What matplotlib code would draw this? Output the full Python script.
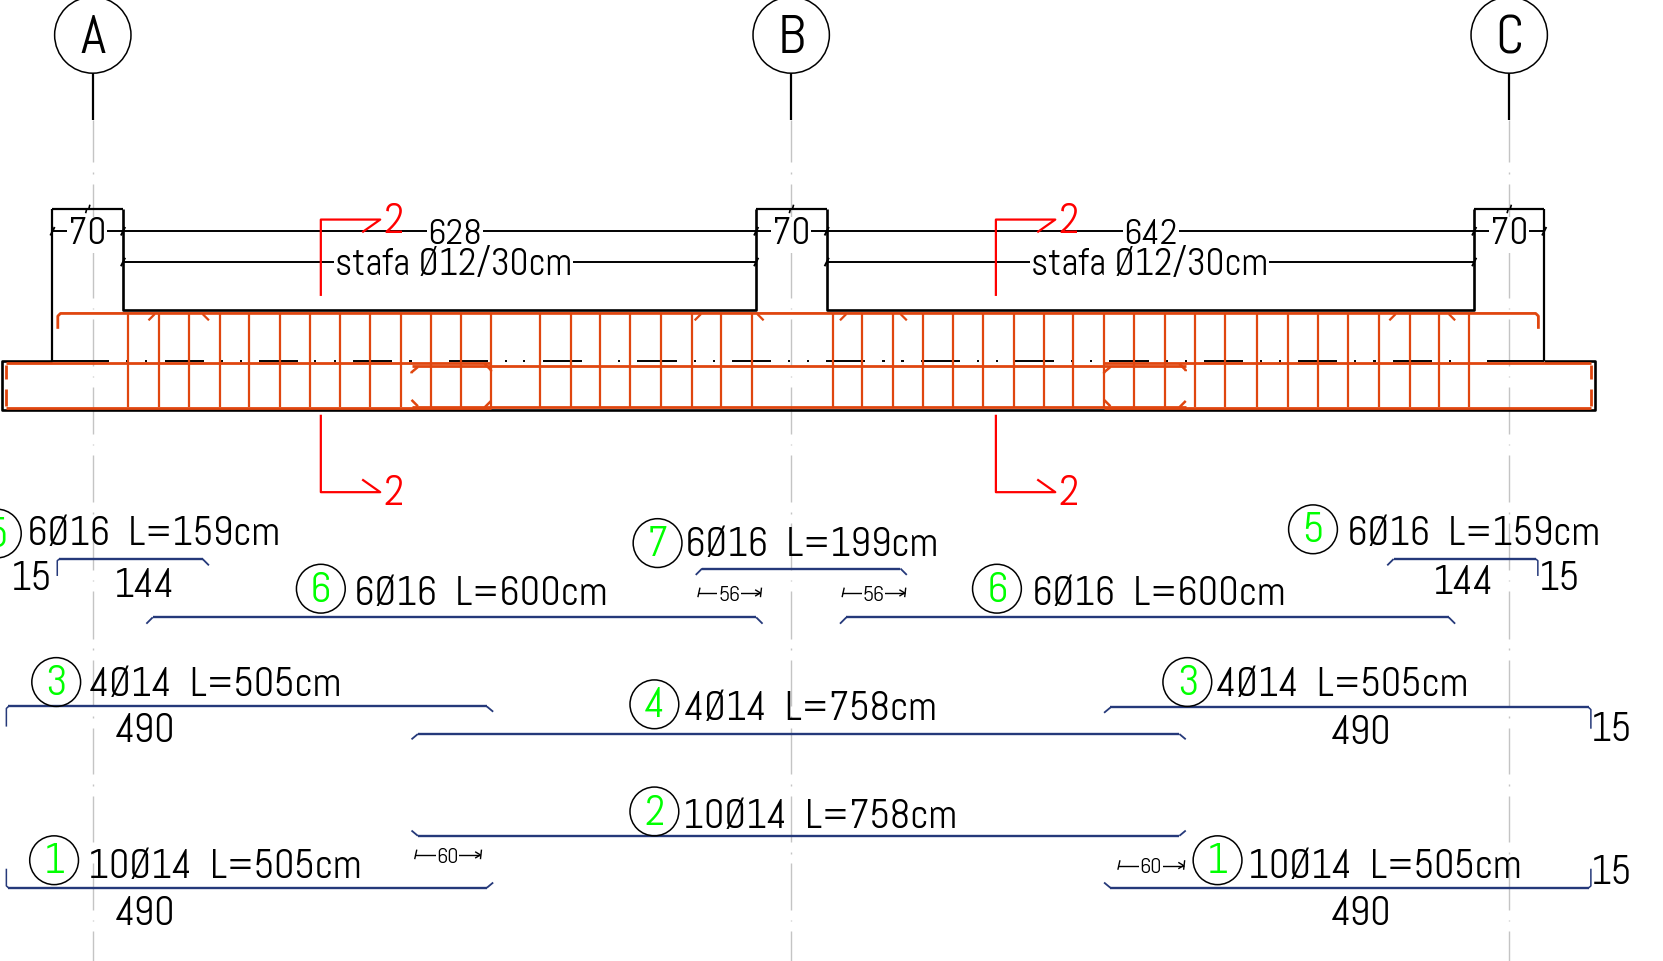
import matplotlib
matplotlib.use("Agg")
import matplotlib.pyplot as plt
from matplotlib import font_manager
from matplotlib.patches import Circle

# everything is in screen-like units, 1568 wide and 906 tall, y going down
BLACK = "#000000"
GRAY = "#c4c4c4"
RED = "#ff0000"
REBAR = "#e0460f"
NAVY = "#25397a"
GREEN = "#00ff00"

grid_names = ["A", "B", "C"]
grid_x = [87.5, 746, 1423]
grid_dots_y = [163, 227, 291, 355, 419, 483.5, 547.5, 612, 676, 740, 804, 868]

column_left = [49.5, 713, 1390]
column_right = [116, 779.5, 1456]
column_label_x = [82, 746, 1423]

stirrups_x = [121, 150, 178, 207, 235, 264, 292, 321, 349, 378, 406, 435, 463,
              509, 538, 566, 594, 623, 652, 680, 709,
              785, 813, 842, 870, 899, 927, 956, 984, 1012, 1041, 1069, 1098,
              1127, 1155, 1185, 1214, 1243, 1271, 1300, 1329, 1357, 1385]

slab_dash_x = [155.5, 244, 333, 423, 512, 601, 690, 779, 868, 957, 1046, 1135, 1224, 1313]
slab_dots_x = [119.5, 138, 209, 227, 297, 316, 387, 406, 477, 494, 566, 584, 655, 673,
               744, 762, 833, 851, 922, 940, 1011, 1029, 1100, 1118, 1189, 1207,
               1278, 1296, 1367, 1385]

# bar shapes under the beam: x0, x1, y, left end, right end (y of the hook tip)
bars = [
    (54, 197, 527, 543, 533),
    (138, 719, 582, 588, 588),
    (656, 855, 536, 542, 542),
    (792, 1372, 582, 588, 588),
    (1308, 1450, 527, 533, 543),
    (6, 465, 666, 685, 671),
    (388, 1118, 692, 697, 697),
    (1041, 1500, 667, 672, 687),
    (388, 1118, 788, 783, 783),
    (6, 465, 837, 819, 832),
    (1041, 1500, 837, 832, 819),
]

marker_names = ["5", "7", "6", "6", "5", "3", "4", "3", "2", "1", "1"]
marker_x = [-3, 620, 302.5, 940, 1238, 53, 617, 1119.5, 617, 51, 1148]
marker_y = [503, 512, 555, 555, 499, 643, 664, 643, 765, 811, 811]

label_text = ["6Ø16  L=159cm", "6Ø16  L=199cm", "6Ø16  L=600cm", "6Ø16  L=600cm",
              "6Ø16  L=159cm", "4Ø14  L=505cm", "4Ø14  L=758cm", "4Ø14  L=505cm",
              "10Ø14  L=758cm", "10Ø14  L=505cm", "10Ø14  L=505cm"]
label_x = [25, 646, 334, 973, 1270, 84, 645, 1147, 644, 83, 1177]
label_y = [501, 512, 558, 558, 501, 644, 666, 644, 768, 815, 815]

length_text = ["144", "15", "144", "15", "490", "490", "15", "490", "490", "15"]
length_x = [136, 30, 1380, 1470, 137, 1283, 1519, 137, 1283, 1519]
length_y = [550, 544, 548, 544, 687, 689, 686, 860, 860, 821]

lap_text = ["56", "56", "60", "60"]
lap_x0 = [658, 794, 391, 1054]
lap_x1 = [717, 853, 453, 1116]
lap_y = [559, 559, 806, 816]

span_text = ["628", "642"]
span_x = [429, 1085]
stirrup_text = "stafa Ø12/30cm"
stirrup_label_x = [316, 972]
section_x = [302.5, 939]

# narrow CAD-like face, shrink the text when it is missing
installed = {f.name for f in font_manager.fontManager.ttflist}
if "Abel" in installed:
    plt.rcParams["font.family"] = ["Abel", "DejaVu Sans"]
    fs = 1.0
else:
    plt.rcParams["font.family"] = ["DejaVu Sans"]
    fs = 0.72
dy = 2.5  # the face sits a little high when centred

fig = plt.figure(figsize=(16.63, 9.61), dpi=100)
ax = fig.add_axes([0, 0, 1, 1])
ax.set_xlim(0, 1568)
ax.set_ylim(906, 0)
ax.axis("off")


def line(xs, ys, color=BLACK, lw=1.5, z=2):
    ax.plot(xs, ys, color=color, lw=lw, solid_capstyle="butt", solid_joinstyle="round", zorder=z)


# grid lines with the bubbles on top
for name, x in zip(grid_names, grid_x):
    start = 113
    for dot in grid_dots_y:
        line([x, x], [start, dot - 10], GRAY, 1, 1)
        line([x, x], [dot - 0.7, dot + 0.7], GRAY, 1, 1)
        start = dot + 10
    line([x, x], [start, 906], GRAY, 1, 1)
    line([x, x], [69, 113], BLACK, 1.6)
    ax.add_patch(Circle((x, 33), 36, fc="white", ec=BLACK, lw=1.1, zorder=3))
    ax.text(x, 35 + dy, name, fontsize=39 * fs, ha="center", va="center", zorder=4)

# concrete outline
for left, right in zip(column_left, column_right):
    line([left, right], [197, 197], BLACK, 1.6)
line([49.5, 49.5], [197, 340], BLACK, 1.6)
line([1456, 1456], [197, 340], BLACK, 1.6)
line([116, 116, 713, 713], [197, 292, 292, 197], BLACK, 1.9)
line([779.5, 779.5, 1390, 1390], [197, 292, 292, 197], BLACK, 1.9)
line([49.5, 2, 2, 1504, 1504, 1456], [340, 340, 387, 387, 340, 340], BLACK, 1.9)
line([49.5, 103], [340, 340], BLACK, 1.4, 3)
line([1402, 1456], [340, 340], BLACK, 1.4, 3)
for x in slab_dash_x:
    line([x, x + 37], [340, 340], BLACK, 1.4, 3)
for x in slab_dots_x:
    line([x - 1, x + 1], [340, 340], BLACK, 1.4, 3)

# rebar
for x in stirrups_x:
    line([x, x], [296, 384], REBAR, 1.6, 5)
line([54.5, 54.5, 57, 1448, 1450.5, 1450.5], [310, 298, 295.5, 295.5, 298, 310], REBAR, 2, 5)
for x0, x1 in [(6, 463), (1041, 1500)]:
    line([x0, x1], [342, 342], REBAR, 2, 5)
    line([x0, x1], [384.5, 384.5], REBAR, 2, 5)
line([388, 1118], [345.5, 345.5], REBAR, 2, 5)
line([388, 1118], [384, 384], REBAR, 2, 5)
line([6, 6], [344, 357], REBAR, 2, 5)
line([6, 6], [367, 383], REBAR, 2, 5)
line([1500, 1500], [344, 357], REBAR, 2, 5)
line([1500, 1500], [367, 383], REBAR, 2, 5)
for x in [388, 1041]:
    line([x + 6, x, x], [346, 351, 352], REBAR, 1.8, 5)
    line([x + 6, x], [383, 377], REBAR, 1.8, 5)
for x in [463, 1118]:
    line([x - 6, x, x], [343, 349, 350], REBAR, 1.8, 5)
    line([x - 6, x], [384, 378], REBAR, 1.8, 5)
for x in [140, 655, 792, 1310]:
    line([x + 6, x], [296, 302], REBAR, 1.6, 5)
for x in [197, 720, 855, 1372]:
    line([x - 6, x], [296, 302], REBAR, 1.6, 5)

# dimension lines
for left, right, tx in zip(column_left, column_right, column_label_x):
    line([left, right], [218, 218], BLACK, 1.4)
    line([left - 2, left + 2], [222, 214], BLACK, 1.4)
    line([right - 2, right + 2], [222, 214], BLACK, 1.4)
    ax.text(tx, 219 + dy, "70", fontsize=27 * fs, ha="center", va="center", zorder=4,
            bbox=dict(fc="white", ec="none", pad=0.5))
    mid = (left + right) / 2
    line([mid - 2, mid - 1, mid + 1, mid + 2], [201, 197, 197, 193], BLACK, 1.2)
for i in range(2):
    x0, x1 = column_right[i], column_left[i + 1]
    line([x0, x1], [218, 218], BLACK, 1.4)
    line([x0, x1], [247, 247], BLACK, 1.4)
    for x in (x0, x1):
        line([x - 2, x + 2], [251, 243], BLACK, 1.4)
    ax.text(span_x[i], 219 + dy, span_text[i], fontsize=26 * fs, ha="center", va="center", zorder=4,
            bbox=dict(fc="white", ec="none", pad=0.5))
    ax.text(stirrup_label_x[i], 248 + dy, stirrup_text, fontsize=27 * fs, ha="left", va="center", zorder=4,
            bbox=dict(fc="white", ec="none", pad=0.5))

# section marks
for x in section_x:
    line([x, x, x + 56, x + 39], [279, 207, 207, 219], RED, 1.6, 6)
    line([x, x, x + 56, x + 39], [391, 464, 464, 452], RED, 1.6, 6)
    ax.text(x + 69, 207 + dy, "2", color=RED, fontsize=30 * fs, ha="center", va="center", zorder=6)
    ax.text(x + 69, 464 + dy, "2", color=RED, fontsize=30 * fs, ha="center", va="center", zorder=6)

# bar shapes, the long hooks are drawn thinner
for x0, x1, y, tip0, tip1 in bars:
    for x_end, x_in, tip in ((x0, x0 + 6, tip0), (x1, x1 - 6, tip1)):
        if abs(tip - y) > 10:
            x_in = x_end + (x_in - x_end) / 3
            line([x_end, x_end, x_in], [tip, y + (tip - y) * 0.1, y], NAVY, 1.1, 4)
        else:
            line([x_end, x_in], [tip, y], NAVY, 1.3, 4)
    hook0 = 2 if abs(tip0 - y) > 10 else 6
    hook1 = 2 if abs(tip1 - y) > 10 else 6
    line([x0 + hook0, x1 - hook1], [y, y], NAVY, 1.7, 4)

for name, x, y in zip(marker_names, marker_x, marker_y):
    ax.add_patch(Circle((x, y), 23, fc="none", ec=BLACK, lw=1.1, zorder=5))
    ax.text(x, y + dy, name, color=GREEN, fontsize=30 * fs, ha="center", va="center", zorder=6)

for text, x, y in zip(label_text, label_x, label_y):
    ax.text(x, y + dy, text, fontsize=29 * fs, ha="left", va="center", zorder=6)
for text, x, y in zip(length_text, length_x, length_y):
    ax.text(x, y + dy, text, fontsize=29 * fs, ha="center", va="center", zorder=6)

for text, x0, x1, y in zip(lap_text, lap_x0, lap_x1, lap_y):
    line([x0, x1], [y, y], BLACK, 1)
    line([x0, x0 + 2], [y + 4, y - 5], BLACK, 1)
    line([x1 - 5, x1, x1 - 5], [y - 3, y, y + 3], BLACK, 1)
    line([x1, x1 + 1], [y + 4, y - 5], BLACK, 1)
    ax.text((x0 + x1) / 2, y + 2, text, fontsize=16 * fs, ha="center", va="center", zorder=6,
            bbox=dict(fc="white", ec="none", pad=0.5))

fig.savefig("out.png", dpi=100)
